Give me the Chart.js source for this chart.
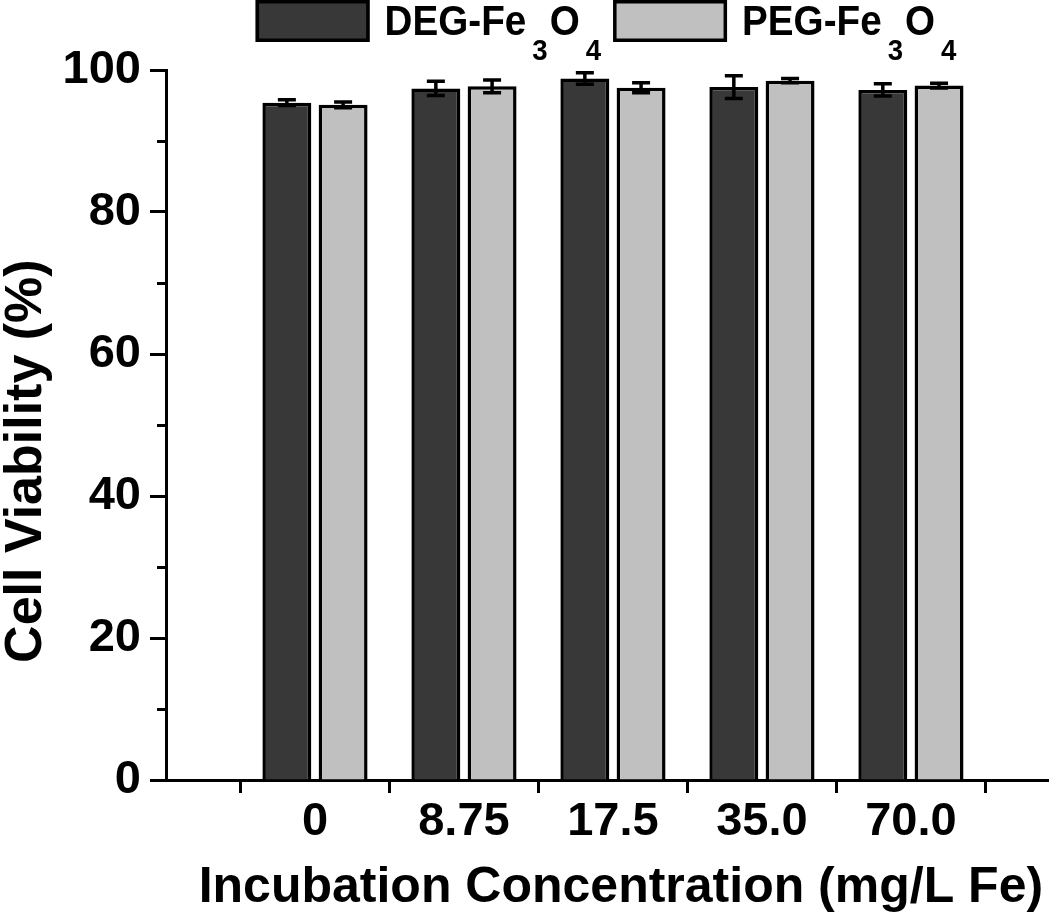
<!DOCTYPE html>
<html>
<head>
<meta charset="utf-8">
<script src="https://cdn.jsdelivr.net/npm/chart.js@4.4.1/dist/chart.umd.min.js"></script>
<style>
  html, body { margin: 0; padding: 0; background: #ffffff; }
  #wrap { width: 1050px; height: 915px; }
</style>
</head>
<body>
<div id="wrap"><canvas id="c" width="1050" height="915"></canvas></div>
<script>
// ---- data ----
const categories = ['0', '8.75', '17.5', '35.0', '70.0'];
const seriesNames = ['DEG-Fe₃O₄', 'PEG-Fe₃O₄'];
const degValues = [95.4, 97.4, 98.8, 97.6, 97.2];
const degErrors = [0.4, 1.0, 0.8, 1.6, 0.85];
const pegValues = [95.1, 97.7, 97.5, 98.5, 97.8];
const pegErrors = [0.4, 0.9, 0.7, 0.3, 0.35];
const yTicks = [0, 20, 40, 60, 80, 100];
const yMinorTicks = [10, 30, 50, 70, 90];
const xAxisTitle = 'Incubation Concentration (mg/L Fe)';
const yAxisTitle = 'Cell Viability (%)';

// ---- styling ----
const FAMILY = '"Liberation Sans", Arial, Helvetica, sans-serif';
const barColors = ['#383838', '#c0c0c0'];
const errorSets = [degErrors, pegErrors];

const subMap = { '₀':'0','₁':'1','₂':'2','₃':'3','₄':'4','₅':'5','₆':'6','₇':'7','₈':'8','₉':'9' };
function splitSub(label) {
  const segs = [];
  for (const ch of label) {
    const sub = ch in subMap;
    const t = sub ? subMap[ch] : ch;
    const last = segs[segs.length - 1];
    if (last && last.sub === sub) last.t += t; else segs.push({ t, sub });
  }
  return segs;
}

const legendPlugin = {
  id: 'subLegend',
  afterDraw(chart) {
    const ctx = chart.ctx;
    const area = chart.chartArea;
    const boxW = 114, boxH = 42, boxTop = 0;
    const gapBoxText = 15, gapItems = 10;
    const sx = 0.92;
    const mainFont = 'bold 42px ' + FAMILY;
    const subFont = 'bold 30px ' + FAMILY;
    const subPadL = 6, subPadR = 2;
    const mainBase = 35, subBase = 60;
    const items = chart.data.datasets.map((ds) => {
      const segs = splitSub(ds.label);
      let w = 0;
      segs.forEach((s) => {
        ctx.font = s.sub ? subFont : mainFont;
        s.w = ctx.measureText(s.t).width * sx;
        s.padL = s.sub ? subPadL : 0;
        s.padR = s.sub ? subPadR : 0;
        w += s.padL + s.w + s.padR;
      });
      return { segs, textW: w, color: ds.backgroundColor };
    });
    let total = 0;
    items.forEach((it, i) => { total += boxW + gapBoxText + it.textW + (i < items.length - 1 ? gapItems : 0); });
    let x = (area.left + area.right) / 2 - total / 2;
    ctx.save();
    items.forEach((it) => {
      ctx.fillStyle = it.color;
      ctx.fillRect(x, boxTop, boxW, boxH);
      ctx.strokeStyle = '#000';
      ctx.lineWidth = 3.5;
      ctx.strokeRect(x + 1.75, boxTop + 1.75, boxW - 3.5, boxH - 3.5);
      x += boxW + gapBoxText;
      ctx.fillStyle = '#000';
      ctx.textBaseline = 'alphabetic';
      ctx.textAlign = 'left';
      it.segs.forEach((s) => {
        x += s.padL;
        ctx.font = s.sub ? subFont : mainFont;
        ctx.save();
        ctx.translate(x, s.sub ? subBase : mainBase);
        ctx.scale(sx, 1);
        ctx.fillText(s.t, 0, 0);
        ctx.restore();
        x += s.w + s.padR;
      });
      x += gapItems;
    });
    ctx.restore();
  }
};

const tickMarksPlugin = {
  id: 'tickMarks',
  afterDraw(chart) {
    const { ctx } = chart;
    const xs = chart.scales.x, ys = chart.scales.y;
    ctx.save();
    ctx.strokeStyle = '#000';
    ctx.lineWidth = 3;
    ctx.beginPath();
    for (let i = 0; i <= categories.length; i++) {
      const px = Math.round(xs.getPixelForValue(i - 0.5)) + 0.5;
      ctx.moveTo(px, xs.top);
      ctx.lineTo(px, xs.top + 13);
    }
    yMinorTicks.forEach((v) => {
      const py = Math.round(ys.getPixelForValue(v)) + 0.5;
      ctx.moveTo(ys.right - 9, py);
      ctx.lineTo(ys.right, py);
    });
    ctx.stroke();
    ctx.restore();
  }
};

const errorBarPlugin = {
  id: 'errorBars',
  afterDatasetsDraw(chart) {
    const { ctx } = chart;
    const ys = chart.scales.y;
    ctx.save();
    ctx.strokeStyle = '#000';
    ctx.lineWidth = 3.5;
    chart.data.datasets.forEach((ds, d) => {
      const meta = chart.getDatasetMeta(d);
      meta.data.forEach((el, i) => {
        const v = ds.data[i].y, e = errorSets[d][i];
        const yTop = ys.getPixelForValue(v + e);
        const yBot = ys.getPixelForValue(v - e);
        const cap = 9;
        ctx.beginPath();
        ctx.moveTo(el.x, yTop); ctx.lineTo(el.x, yBot);
        ctx.moveTo(el.x - cap, yTop); ctx.lineTo(el.x + cap, yTop);
        ctx.moveTo(el.x - cap, yBot); ctx.lineTo(el.x + cap, yBot);
        ctx.stroke();
      });
    });
    ctx.restore();
  }
};

const tickFont = { family: FAMILY, size: 47, weight: 'bold' };

new Chart(document.getElementById('c'), {
  type: 'bar',
  data: {
    datasets: [
      {
        label: seriesNames[0],
        data: degValues.map((v, i) => ({ x: i, y: v })),
        backgroundColor: barColors[0],
        borderColor: '#000',
        borderWidth: 3.5,
        borderSkipped: 'start',
        categoryPercentage: 0.755,
        barPercentage: 0.87
      },
      {
        label: seriesNames[1],
        data: pegValues.map((v, i) => ({ x: i, y: v })),
        backgroundColor: barColors[1],
        borderColor: '#000',
        borderWidth: 3.5,
        borderSkipped: 'start',
        categoryPercentage: 0.755,
        barPercentage: 0.87
      }
    ]
  },
  options: {
    responsive: false,
    animation: false,
    devicePixelRatio: 1,
    layout: { padding: { top: 70, right: 2, left: 0, bottom: 0 } },
    plugins: { legend: { display: false }, tooltip: { enabled: false } },
    scales: {
      x: {
        type: 'linear',
        min: -1,
        max: 4.92,
        offset: false,
        z: 1,
        afterBuildTicks: (s) => { s.ticks = categories.map((_, i) => ({ value: i })); },
        afterFit: (s) => { s.height = 135; },
        grid: { display: true, drawOnChartArea: false, drawTicks: false, offset: false },
        border: { display: true, color: '#000', width: 3 },
        ticks: {
          autoSkip: false, maxRotation: 0, minRotation: 0,
          padding: 14, color: '#000', font: tickFont,
          callback: (v) => (Number.isInteger(v) && categories[v] !== undefined ? categories[v] : '')
        },
        title: {
          display: true,
          text: '  ' + xAxisTitle,
          color: '#000',
          font: { family: FAMILY, size: 50, weight: 'bold', lineHeight: 1 },
          padding: { top: 0, bottom: 2 }
        }
      },
      y: {
        type: 'linear',
        min: 0,
        max: 100,
        afterBuildTicks: (s) => { s.ticks = yTicks.map((v) => ({ value: v })); },
        afterFit: (s) => { s.width = 166; },
        grid: { display: true, drawOnChartArea: false, drawTicks: true, tickLength: 16, tickWidth: 3, tickColor: '#000' },
        border: { display: true, color: '#000', width: 3 },
        ticks: { padding: 9, color: '#000', font: tickFont },
        title: {
          display: true,
          text: yAxisTitle + '     ',
          color: '#000',
          font: { family: FAMILY, size: 52, weight: 'bold', lineHeight: 1 },
          padding: { top: 1, bottom: 0 }
        }
      }
    }
  },
  plugins: [legendPlugin, tickMarksPlugin, errorBarPlugin]
});
</script>
</body>
</html>
